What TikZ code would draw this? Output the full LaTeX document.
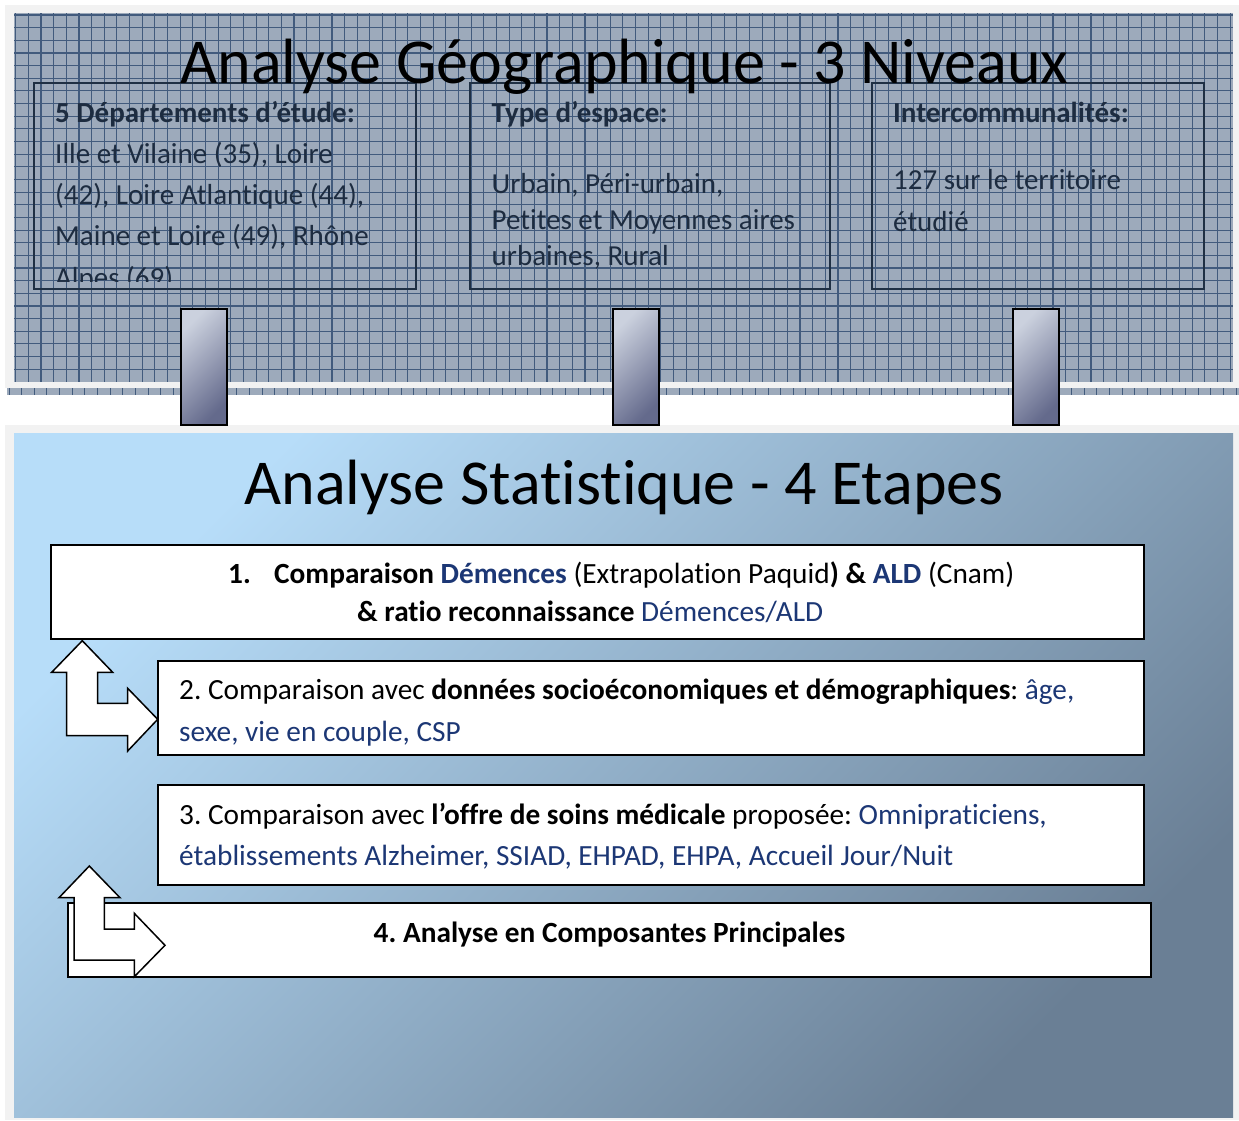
\documentclass[tikz,border=0pt]{standalone}
\usepackage{fontspec}
\setmainfont{Carlito}[Ligatures=NoCommon]
\frenchspacing
\definecolor{framegray}{HTML}{F2F2F2}
\definecolor{gridfill}{HTML}{9DAABB}
\definecolor{gridline}{HTML}{425B7D}
\definecolor{geotext}{HTML}{1D2C40}
\definecolor{geoborder}{HTML}{1F3044}
\definecolor{navy}{HTML}{1C3775}
\definecolor{pillarlight}{HTML}{CBD1DE}
\definecolor{pillardark}{HTML}{646A8C}
\definecolor{panellight}{HTML}{B7DDF9}
\definecolor{paneldark}{HTML}{6A7F95}
\tikzset{
  gridln/.style={draw=gridline, line width=1.1pt},
  geobox/.style={draw=geoborder, line width=2pt, inner sep=0pt},
  geoline/.style={anchor=base west, inner sep=0pt, text=geotext, font=\fontsize{29}{35}\selectfont},
  pillar/.style={draw=black, line width=2pt, top color=pillarlight, bottom color=pillardark, shading angle=45, inner sep=0pt, minimum width=46pt, minimum height=116pt},
  stepbox/.style={draw=black, fill=white, line width=2pt, inner sep=0pt},
  stepline/.style={anchor=base west, inner sep=0pt, font=\fontsize{29.3}{35}\selectfont},
  bigtitle/.style={anchor=base, inner sep=0pt, font=\fontsize{64}{70}\selectfont},
  bentarrow/.style={draw=black, fill=white, line width=1.5pt, line join=miter},
}
\begin{document}
\begin{tikzpicture}[x=1pt,y=-1pt]
\useasboundingbox (0,0) rectangle (1239,1120);
\fill[white] (0,0) rectangle (1239,1120);
% top panel
\fill[framegray] (5,5) rectangle (1239,388);
\fill[gridfill] (14,13) rectangle (1233,382);
\foreach \i in {0,...,96} {\draw[gridln] ({15.7+12.65*\i},13) -- ++(0,369);}
\foreach \j in {0,...,28} {\draw[gridln] (14,{15+12.65*\j}) -- ++(1219,0);}
% thin strip
\fill[gridfill] (7,388) rectangle (1239,395);
\foreach \i in {0,...,97} {\draw[gridline, line width=1pt] ({9+12.65*\i},388) -- ++(0,7);}
% bottom panel
\fill[framegray] (5,425) rectangle (1239,1120);
\shade[top color=panellight, bottom color=paneldark, shading angle=45] (14,433) rectangle (1233,1117);
% pillars
\node[pillar] (p1) at (204,367) {};
\node[pillar] (p2) at (636,367) {};
\node[pillar] (p3) at (1036,367) {};
% geo boxes
\node[geobox, minimum width=382pt, minimum height=206pt] (g1) at (225,186) {};
\node[geobox, minimum width=360pt, minimum height=206pt] (g2) at (650,186) {};
\node[geobox, minimum width=332pt, minimum height=206pt] (g3) at (1038,186) {};
\node[bigtitle] (t1) at (624.5,83.5) {Analyse Géographique - 3 Niveaux};
\begin{scope}
\clip (34,83) rectangle (416,281);
\node[geoline] (g1h) at (55,122) {\bfseries 5 Départements d’étude:};
\node[geoline] (g1a) at (55,163) {Ille et Vilaine (35), Loire};
\node[geoline] (g1b) at (55,204.5) {(42), Loire Atlantique (44),};
\node[geoline] (g1c) at (55,245.5) {Maine et Loire (49), Rhône};
\node[geoline] (g1d) at (55,287) {Alpes (69)};
\end{scope}
\node[geoline] (g2h) at (491.5,122) {\bfseries Type d’espace:};
\node[geoline] (g2a) at (491.5,193) {Urbain, Péri-urbain,};
\node[geoline] (g2b) at (491.5,229.5) {Petites et Moyennes aires};
\node[geoline] (g2c) at (491.5,265.5) {urbaines, Rural};
\node[geoline] (g3h) at (893,122) {\bfseries Intercommunalités:};
\node[geoline] (g3a) at (893,189) {127 sur le territoire};
\node[geoline] (g3b) at (893,231) {étudié};
% statistics
\node[bigtitle] (t2) at (624,504) {Analyse Statistique - 4 Etapes};
\node[stepbox, minimum width=1093pt, minimum height=94pt] (s1) at (597.5,592) {};
\node[stepbox, minimum width=986pt, minimum height=94pt] (s2) at (651,708) {};
\node[stepbox, minimum width=986pt, minimum height=100pt] (s3) at (651,835) {};
\node[stepline] (s1n) at (228,583) {\bfseries 1.};
\node[stepline] (s1a) at (274,583) {\textbf{Comparaison} \textcolor{navy}{\textbf{Démences}} (Extrapolation Paquid\textbf{) \& \textcolor{navy}{ALD}} (Cnam)};
\node[stepline] (s1b) at (357,621) {\textbf{\& ratio reconnaissance} \textcolor{navy}{Démences/ALD}};
\node[stepline] (s2a) at (179,699) {2. Comparaison avec \textbf{données socioéconomiques et démographiques}: \textcolor{navy}{âge,}};
\node[stepline, text=navy] (s2b) at (179,741) {sexe, vie en couple, CSP};
\node[stepline] (s3a) at (179,824) {3. Comparaison avec \textbf{l’offre de soins médicale} proposée: \textcolor{navy}{Omnipraticiens,}};
\node[stepline, text=navy] (s3b) at (179,865) {établissements Alzheimer, SSIAD, EHPAD, EHPA, Accueil Jour/Nuit};
% arrow 1 between s1 and s2
\coordinate (a1tip) at (82.3,640.7);
\coordinate (a1end) at (157.7,719.3);
\draw[bentarrow] (a1tip) -- (112.7,672.3) -- (97.7,672.3) -- (97.7,703.3) -- (127.7,703.3) -- (127.7,688.3) -- (a1end) -- (127.7,751) -- (127.7,735.7) -- (66.7,735.7) -- (66.7,672.3) -- (51.7,672.3) -- cycle;
% step 4
\node[stepbox, minimum width=1083pt, minimum height=74pt] (s4) at (609.5,940) {};
\node[stepline, anchor=base] (s4a) at (609.5,942) {\bfseries 4. Analyse en Composantes Principales};
\coordinate (a2tip) at (89.3,866);
\coordinate (a2end) at (165,945.3);
\draw[bentarrow] (a2tip) -- (120,897.7) -- (104.3,897.7) -- (104.3,929) -- (134.3,929) -- (134.3,913.3) -- (a2end) -- (134.3,976.7) -- (134.3,960) -- (74,960) -- (74,897.7) -- (59,897.7) -- cycle;
\end{tikzpicture}
\end{document}
